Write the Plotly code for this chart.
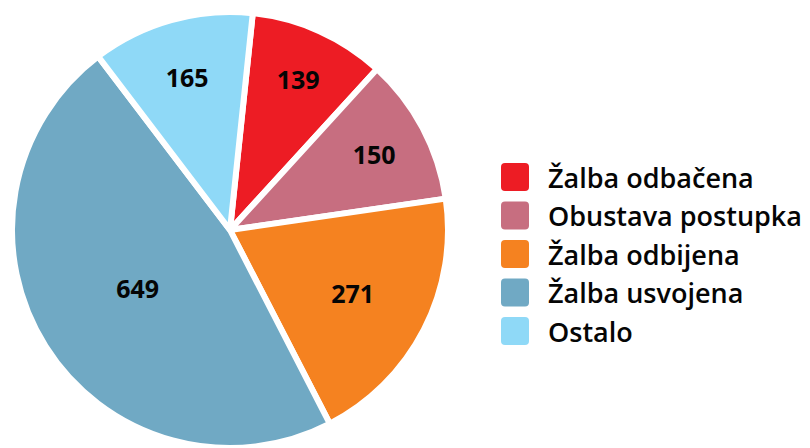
import plotly.graph_objects as go

labels = ["Žalba odbačena", "Obustava postupka", "Žalba odbijena", "Žalba usvojena", "Ostalo"]
values = [139, 150, 271, 649, 165]
colors = ["#ED1C24", "#C76E80", "#F58220", "#70A9C4", "#8FD9F7"]

W, H = 810, 448

fig = go.Figure()
fig.add_trace(go.Pie(
    labels=labels,
    values=values,
    sort=False,
    direction="clockwise",
    rotation=6,
    marker=dict(colors=colors, line=dict(color="white", width=6)),
    textinfo="value",
    textposition="inside",
    insidetextorientation="horizontal",
    textfont=dict(family="Open Sans", size=25, color="#050505", weight="bold"),
    domain=dict(x=[12 / W, 448 / W], y=[0, 1 - 12 / H]),
    showlegend=False,
    hoverinfo="label+value",
))

# custom legend (rounded squares + labels) built from the data lists
shapes = []
annotations = []
x0, size, r = 501, 28, 4
y_first, step = 177, 38.5


def px(x):
    return x / W


def py(y):
    return 1 - y / H


for i, (lab, col) in enumerate(zip(labels, colors)):
    cy = y_first + i * step
    top, bot = cy - size / 2, cy + size / 2
    left, right = x0, x0 + size
    path = (
        f"M {px(left + r)},{py(top)} L {px(right - r)},{py(top)} "
        f"Q {px(right)},{py(top)} {px(right)},{py(top + r)} "
        f"L {px(right)},{py(bot - r)} Q {px(right)},{py(bot)} {px(right - r)},{py(bot)} "
        f"L {px(left + r)},{py(bot)} Q {px(left)},{py(bot)} {px(left)},{py(bot - r)} "
        f"L {px(left)},{py(top + r)} Q {px(left)},{py(top)} {px(left + r)},{py(top)} Z"
    )
    shapes.append(dict(type="path", xref="paper", yref="paper", path=path,
                       fillcolor=col, line=dict(width=0)))
    annotations.append(dict(
        x=px(546), y=py(cy), xref="paper", yref="paper",
        text=lab, showarrow=False, xanchor="left", yanchor="middle",
        font=dict(family="Open Sans", size=27, color="#050505", weight=600),
    ))

fig.update_layout(
    width=W, height=H,
    margin=dict(l=0, r=0, t=0, b=0),
    paper_bgcolor="white",
    plot_bgcolor="white",
    shapes=shapes,
    annotations=annotations,
    showlegend=False,
)

fig.write_html("out.html", config={"displayModeBar": False},
               post_script="document.body.style.margin='0';")
